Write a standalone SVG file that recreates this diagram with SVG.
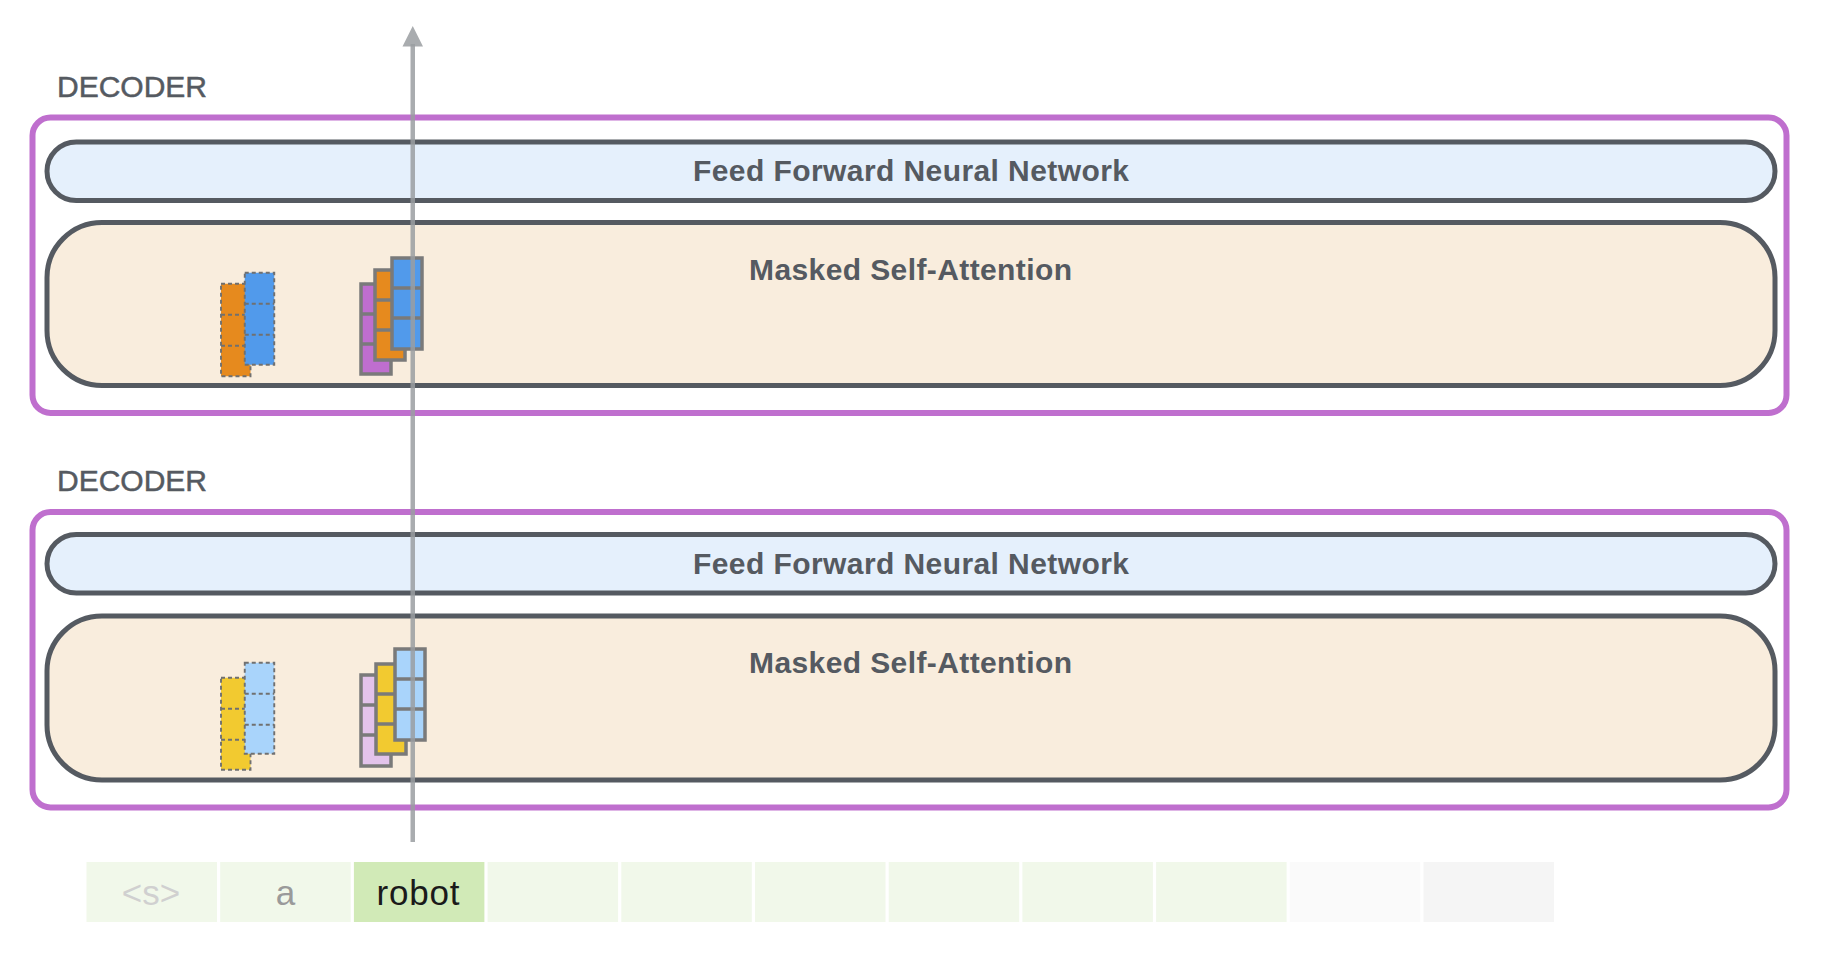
<svg xmlns="http://www.w3.org/2000/svg" width="1821" height="972" viewBox="0 0 1821 972">
<style>
.lbl{font-family:"Liberation Sans",Arial,sans-serif;font-size:30px;fill:#555a61;stroke:#555a61;stroke-width:0.5}
.ttl{font-family:"Liberation Sans",Arial,sans-serif;font-size:30px;font-weight:bold;fill:#555a61;text-anchor:middle}
.outer{fill:none;stroke:#bf6fce;stroke-width:6}
.ffnn{fill:#e5f0fc;stroke:#555a61;stroke-width:5}
.msa{fill:#f9eddd;stroke:#555a61;stroke-width:5}
.dash{stroke:#707070;stroke-width:1.9;stroke-dasharray:4 3}
.sol{stroke:#7a7a7a;stroke-width:3.5}
.tok{font-family:"Liberation Sans",Arial,sans-serif;font-size:35px;text-anchor:middle}
</style>
<defs>
<g id="ddiv"><line x1="0" y1="31" x2="29.5" y2="31" class="dash"/><line x1="0" y1="62" x2="29.5" y2="62" class="dash"/></g>
<g id="sdiv"><line x1="0" y1="30" x2="30" y2="30" class="sol"/><line x1="0" y1="60" x2="30" y2="60" class="sol"/></g>
</defs>
<g id="decoder1">
<text class="lbl" x="57" y="97">DECODER</text>
<rect class="outer" x="32.5" y="117.5" width="1754" height="295.5" rx="18"/>
<g id="ffnn1">
<rect class="ffnn" x="47" y="142" width="1728" height="58.5" rx="29.25"/>
<text class="ttl" x="911" y="181" textLength="436">Feed Forward Neural Network</text>
</g>
<g id="msa1">
<rect class="msa" x="47" y="222.5" width="1728" height="163" rx="55"/>
<text class="ttl" x="910.5" y="279.5" textLength="323">Masked Self-Attention</text>
</g>
<g id="vectors1">
<rect x="221" y="283.75" width="29.5" height="92.5" fill="#e68a1e" class="dash"/>
<use href="#ddiv" x="221" y="283.75"/>
<rect x="244.75" y="272.75" width="29.5" height="92" fill="#519aeb" class="dash"/>
<use href="#ddiv" x="244.75" y="272.75"/>
<rect x="361" y="284" width="30" height="90" fill="#bf6ecf" class="sol"/>
<use href="#sdiv" x="361" y="284"/>
<rect x="375" y="270" width="30" height="90" fill="#e68a1e" class="sol"/>
<use href="#sdiv" x="375" y="270"/>
<rect x="392" y="258" width="30" height="91" fill="#519aeb" class="sol"/>
<use href="#sdiv" x="392" y="258"/>
</g>
</g>
<g id="decoder2">
<text class="lbl" x="57" y="491">DECODER</text>
<rect class="outer" x="32.5" y="512" width="1754" height="295.5" rx="18"/>
<g id="ffnn2">
<rect class="ffnn" x="47" y="534.5" width="1728" height="58.5" rx="29.25"/>
<text class="ttl" x="911" y="574" textLength="436">Feed Forward Neural Network</text>
</g>
<g id="msa2">
<rect class="msa" x="47" y="616" width="1728" height="164" rx="55"/>
<text class="ttl" x="910.5" y="673" textLength="323">Masked Self-Attention</text>
</g>
<g id="vectors2">
<rect x="221" y="677.75" width="29.5" height="92" fill="#f2ca30" class="dash"/>
<use href="#ddiv" x="221" y="677.75"/>
<rect x="244.75" y="662.75" width="29.5" height="91" fill="#a9d4fb" class="dash"/>
<use href="#ddiv" x="244.75" y="662.75"/>
<rect x="361" y="675" width="30" height="91" fill="#e3c3eb" class="sol"/>
<use href="#sdiv" x="361" y="675"/>
<rect x="376" y="664" width="30" height="90" fill="#f2ca30" class="sol"/>
<use href="#sdiv" x="376" y="664"/>
<rect x="395" y="649" width="30" height="91" fill="#a9d4fb" class="sol"/>
<use href="#sdiv" x="395" y="649"/>
</g>
</g>
<g id="tokens">
<rect x="86.5" y="862" width="130.5" height="60" fill="#f1f8ea"/>
<rect x="220.2" y="862" width="130.5" height="60" fill="#f1f8ea"/>
<rect x="353.9" y="862" width="130.5" height="60" fill="#d1eab7"/>
<rect x="487.6" y="862" width="130.5" height="60" fill="#f1f8ea"/>
<rect x="621.3" y="862" width="130.5" height="60" fill="#f1f8ea"/>
<rect x="755" y="862" width="130.5" height="60" fill="#f1f8ea"/>
<rect x="888.7" y="862" width="130.5" height="60" fill="#f1f8ea"/>
<rect x="1022.4" y="862" width="130.5" height="60" fill="#f1f8ea"/>
<rect x="1156.1" y="862" width="130.5" height="60" fill="#f1f8ea"/>
<rect x="1289.8" y="862" width="130.5" height="60" fill="#fafafa"/>
<rect x="1423.5" y="862" width="130.5" height="60" fill="#f5f5f5"/>
<text class="tok" x="151" y="904.5" fill="#d0d0d0">&lt;s&gt;</text>
<text class="tok" x="285.5" y="904.5" fill="#9a9a9a">a</text>
<text class="tok" x="418" y="904.5" fill="#1a1a1a" textLength="83">robot</text>
</g>
<g id="connectors">
<line x1="412.75" y1="842" x2="412.75" y2="44" stroke="#9a9da1" stroke-width="4.5" stroke-opacity="0.85"/>
<polygon points="402.5,46.5 423,46.5 412.75,26" fill="#9a9da1" fill-opacity="0.85"/>
</g>
</svg>
